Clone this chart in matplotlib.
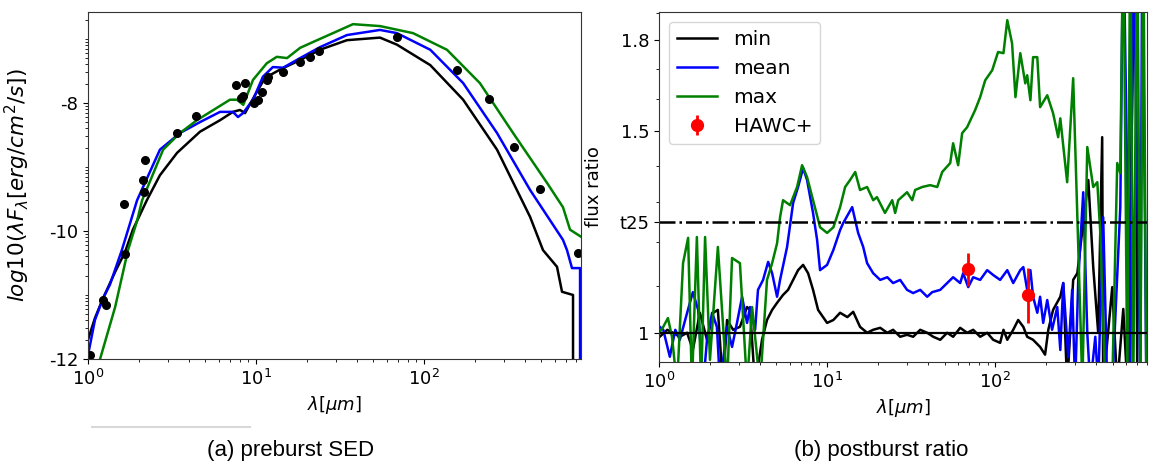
import numpy as np
import matplotlib
matplotlib.use("Agg")
import matplotlib.pyplot as plt
from matplotlib.ticker import FixedLocator, NullFormatter, FixedFormatter, LogLocator
from matplotlib.lines import Line2D

# ---------------- (a) preburst SED : log10(lambda F_lambda) ----------------
sed_wl_min = [1.0, 1.10, 1.23, 1.45, 1.66, 1.85, 2.24, 2.68, 3.39, 4.64, 6.11, 7.29, 8.03, 8.60,
              9.86, 11.3, 13.9, 18.3, 24.0, 34.8, 54.7, 69, 109, 171, 272, 428, 511, 619, 663,
              771, 771]
sed_min = [-11.70, -11.36, -11.05, -10.64, -10.33, -9.98, -9.52, -9.13, -8.78, -8.45, -8.27,
           -8.14, -8.11, -8.16, -7.88, -7.61, -7.48, -7.33, -7.17, -7.02, -6.98, -7.09, -7.41,
           -7.95, -8.73, -9.78, -10.30, -10.56, -10.95, -11.0, -14.0]

sed_wl_mean = [1.0, 1.10, 1.23, 1.35, 1.59, 1.96, 2.68, 3.53, 4.64, 6.11, 7.29, 7.81, 8.37, 9.6,
               11.0, 12.6, 14.5, 18.3, 24.0, 34.8, 54.7, 69, 109, 171, 272, 428, 672, 710, 760,
               849, 849]
sed_mean = [-11.94, -11.39, -11.05, -10.84, -10.30, -9.52, -8.73, -8.47, -8.30, -8.14, -8.14,
            -8.22, -8.16, -7.95, -7.59, -7.44, -7.45, -7.30, -7.13, -6.94, -6.86, -6.91, -7.17,
            -7.69, -8.47, -9.36, -10.14, -10.30, -10.58, -10.58, -14.0]

sed_wl_max = [1.0, 1.18, 1.45, 1.73, 1.96, 2.10, 2.80, 3.53, 4.45, 7.0, 7.7, 8.4, 9.6, 11.6,
              13.3, 15.3, 18.3, 21.8, 37.8, 54.7, 86, 137, 215, 339, 540, 672, 740, 860]
sed_max = [-12.66, -12.0, -11.19, -10.30, -9.84, -9.52, -8.73, -8.47, -8.27, -7.95, -7.95,
           -8.03, -7.64, -7.38, -7.28, -7.30, -7.14, -7.05, -6.77, -6.80, -6.91, -7.17, -7.69,
           -8.47, -9.25, -9.63, -9.98, -10.09]

obs_wl = [1.03, 1.23, 1.28, 1.66, 1.64, 2.13, 2.15, 2.18, 3.39, 4.39, 7.6, 8.6, 8.1, 8.4, 9.7,
          10.3, 10.9, 11.6, 11.8, 14.5, 18.3, 20.9, 23.7, 69, 157, 244, 343, 490, 826]
obs_f = [-11.94, -11.08, -11.16, -10.36, -9.58, -9.20, -9.39, -8.89, -8.47, -8.20, -7.72, -7.69,
         -7.92, -7.89, -8.0, -7.95, -7.83, -7.64, -7.59, -7.52, -7.36, -7.28, -7.19, -6.97,
         -7.48, -7.94, -8.69, -9.34, -10.34]

sed_yticks = [-8, -10, -12]
sed_yticklabels = ["-8", "-10", "-12"]

# ---------------- (b) postburst ratio ----------------
r_wl_min = [1.01, 1.12, 1.21, 1.33, 1.47, 1.59, 1.75, 1.93, 2.10, 2.24, 2.40, 2.54, 2.76, 3.03,
            3.34, 3.48, 3.73, 4.10, 4.39, 4.71, 5.04, 5.47, 5.86, 6.28, 6.72, 7.20, 7.71, 8.25,
            8.84, 10.0, 10.9, 11.95, 13.2, 14.3, 15.7, 17.3, 18.8, 20.7, 22.8, 24.7, 27.2, 29.9,
            32.5, 35.8, 39.4, 42.8, 47.1, 51.8, 56.2, 61.9, 68.1, 74.0, 81.4, 89.6, 97.3, 107,
            112, 118, 128, 137, 147, 155, 168, 185, 198, 207, 221, 244, 254, 268, 291, 308, 330,
            358, 383, 410, 433, 439, 497, 532, 578, 611, 681, 700, 793]
r_min = [0.993, 1.007, 1.001, 0.993, 1.001, 0.967, 1.042, 0.987, 1.042, 1.048, 0.90, 1.027,
         1.007, 1.013, 1.054, 1.048, 0.90, 0.987, 1.027, 1.048, 1.063, 1.080, 1.091, 1.113,
         1.135, 1.147, 1.128, 1.091, 1.048, 1.021, 1.027, 1.042, 1.033, 1.044, 1.013, 1.001,
         1.007, 1.011, 1.001, 1.007, 0.993, 0.997, 0.993, 1.007, 1.001, 0.993, 0.987, 1.001,
         0.993, 1.011, 1.001, 1.007, 0.993, 1.001, 0.987, 0.981, 1.007, 0.987, 1.007, 1.027,
         1.013, 0.993, 0.987, 0.973, 0.958, 1.007, 1.048, 1.076, 1.106, 0.90, 1.113, 1.128,
         1.230, 1.360, 1.142, 1.001, 1.482, 0.90, 1.097, 0.90, 1.05, 0.90, 2.3, 0.90, 0.90]

r_wl_mean = [1.01, 1.06, 1.16, 1.25, 1.33, 1.47, 1.59, 1.71, 1.83, 1.93, 2.07, 2.21, 2.31, 2.54,
             2.72, 2.91, 3.12, 3.34, 3.48, 3.73, 3.88, 4.16, 4.46, 4.71, 5.04, 5.25, 5.78, 6.28,
             6.72, 7.20, 7.60, 8.25, 8.72, 9.08, 10.0, 10.9, 11.95, 12.45, 14.1, 15.3, 16.4,
             17.3, 18.8, 20.7, 22.8, 24.7, 27.2, 29.9, 32.5, 35.8, 39.4, 42.2, 47.1, 51.8, 56.2,
             61.9, 64.5, 69.1, 74.0, 81.4, 89.6, 97.3, 107, 118, 128, 141, 147, 155, 162, 168,
             178, 185, 193, 204, 218, 234, 244, 254, 272, 287, 299, 312, 334, 353, 368, 394, 410,
             439, 464, 497, 555, 578, 636, 663, 730, 750, 793]
r_mean = [1.013, 1.007, 0.954, 1.007, 0.987, 1.042, 1.086, 1.048, 0.90, 0.987, 1.042, 1.013,
          0.90, 1.013, 0.973, 1.021, 1.076, 1.021, 1.054, 1.007, 1.091, 1.113, 1.154, 1.128,
          1.076, 1.113, 1.189, 1.299, 1.341, 1.393, 1.360, 1.273, 1.206, 1.135, 1.147, 1.182,
          1.230, 1.247, 1.288, 1.223, 1.189, 1.151, 1.128, 1.113, 1.119, 1.106, 1.113, 1.091,
          1.084, 1.091, 1.076, 1.086, 1.091, 1.106, 1.119, 1.106, 1.128, 1.097, 1.119, 1.113,
          1.135, 1.124, 1.113, 1.135, 1.106, 1.135, 1.142, 1.091, 1.135, 1.076, 1.042, 1.076,
          1.021, 1.069, 1.007, 1.054, 0.967, 1.106, 0.954, 1.091, 0.90, 1.113, 1.327, 1.001,
          0.90, 0.993, 0.90, 1.262, 0.90, 0.90, 1.288, 2.3, 0.90, 2.3, 0.90, 2.3, 0.90]

r_wl_max = [1.00, 1.06, 1.13, 1.195, 1.28, 1.39, 1.49, 1.57, 1.68, 1.78, 1.88, 2.01, 2.24, 2.54,
            2.72, 3.03, 3.34, 3.58, 3.99, 4.39, 4.71, 5.04, 5.25, 5.47, 6.02, 6.63, 7.10, 7.60,
            8.25, 9.08, 10.0, 10.9, 11.95, 12.8, 13.7, 14.7, 15.7, 17.3, 18.8, 19.8, 22.1, 24.4,
            25.4, 26.5, 29.9, 32.1, 33.4, 36.8, 41.0, 45.2, 48.4, 54.0, 56.2, 60.2, 63.6, 68.1,
            76.0, 81.4, 87.2, 96.0, 104, 112, 118, 126, 132, 141, 151, 155, 162, 168, 178, 185,
            204, 221, 237, 244, 268, 291, 312, 330, 353, 383, 405, 422, 452, 497, 532, 555, 578,
            611, 636, 663, 700, 730, 760, 793]
r_max = [1.00, 1.013, 1.031, 0.993, 0.90, 1.151, 1.211, 0.90, 1.213, 0.90, 1.213, 0.948, 1.189,
         0.90, 1.163, 1.151, 0.90, 1.054, 0.90, 1.113, 1.151, 1.198, 1.262, 1.306, 1.293, 1.341,
         1.401, 1.368, 1.306, 1.237, 1.223, 1.237, 1.288, 1.341, 1.360, 1.382, 1.333, 1.341,
         1.306, 1.314, 1.273, 1.306, 1.273, 1.306, 1.327, 1.306, 1.333, 1.341, 1.346, 1.341,
         1.382, 1.407, 1.464, 1.401, 1.494, 1.512, 1.565, 1.606, 1.661, 1.695, 1.758, 1.754,
         1.874, 1.789, 1.606, 1.754, 1.651, 1.678, 1.596, 1.740, 1.740, 1.574, 1.612, 1.555,
         1.482, 1.539, 1.354, 1.668, 1.189, 0.90, 1.453, 1.341, 1.354, 1.223, 0.90, 0.90, 1.407,
         1.379, 2.3, 0.90, 2.3, 0.90, 2.3, 0.90, 2.3, 0.90]

hawc_wl = [69, 157]
hawc_ratio = [1.137, 1.080]
hawc_err = [0.037, 0.060]

ratio_unity = 1.0
ratio_t25 = 1.25
ratio_yticks = [1.0, 1.25, 1.5, 1.8]
ratio_yticklabels = ["1", "t25", "1.5", "1.8"]
ratio_yminor = [1.1, 1.2, 1.3, 1.4, 1.6, 1.7, 1.9]

# ---------------- figure ----------------
plt.rcParams["font.size"] = 13
fig = plt.figure(figsize=(11.49, 4.69), dpi=100)
W, H = 1149, 469

def box(x0, y0, x1, y1):
    return [x0 / W, 1 - y1 / H, (x1 - x0) / W, (y1 - y0) / H]

axL = fig.add_axes(box(88, 12, 581, 359))
axR = fig.add_axes(box(659, 12, 1147, 362))

lw = 1.8
axL.plot(sed_wl_min, 10.0 ** np.array(sed_min), color="k", lw=lw)
axL.plot(sed_wl_mean, 10.0 ** np.array(sed_mean), color="b", lw=lw)
axL.plot(sed_wl_max, 10.0 ** np.array(sed_max), color="g", lw=lw)
axL.plot(obs_wl, 10.0 ** np.array(obs_f), "o", color="k", ms=5.5)
axL.set_xscale("log")
axL.set_yscale("log")
axL.set_xlim(1, 860)
axL.set_ylim(1e-12, 10 ** -6.58)
axL.yaxis.set_major_locator(FixedLocator([10.0 ** v for v in sed_yticks]))
axL.yaxis.set_major_formatter(FixedFormatter(sed_yticklabels))
axL.yaxis.set_minor_locator(LogLocator(base=10, subs=np.arange(1, 10)))
axL.yaxis.set_minor_formatter(NullFormatter())
axL.set_xlabel(r"$\lambda[\mu m]$", fontsize=13)
axL.set_ylabel(r"$log10(\lambda F_{\lambda}[erg/cm^2/s])$", fontsize=15.5, labelpad=12)

axR.plot(r_wl_min, r_min, color="k", lw=lw, label="min")
axR.plot(r_wl_mean, r_mean, color="b", lw=lw, label="mean")
axR.plot(r_wl_max, r_max, color="g", lw=lw, label="max")
axR.axhline(ratio_unity, color="k", lw=1.6)
axR.axhline(ratio_t25, color="k", lw=1.8, ls="-.")
axR.errorbar(hawc_wl, hawc_ratio, yerr=hawc_err, fmt="o", color="r", ms=8.5, elinewidth=2,
             label="HAWC+", zorder=5)
axR.set_xscale("log")
axR.set_yscale("log")
axR.set_xlim(1, 800)
axR.set_ylim(0.944, 1.905)
axR.yaxis.set_major_locator(FixedLocator(ratio_yticks))
axR.yaxis.set_major_formatter(FixedFormatter(ratio_yticklabels))
axR.yaxis.set_minor_locator(FixedLocator(ratio_yminor))
axR.yaxis.set_minor_formatter(NullFormatter())
axR.set_xlabel(r"$\lambda[\mu m]$", fontsize=13)
axR.set_ylabel("flux ratio", fontsize=13, labelpad=12)
axR.legend(loc="upper left", fontsize=14.5, handlelength=2.0)

for ax in (axL, axR):
    ax.tick_params(labelsize=13)
    for s in ax.spines.values():
        s.set_color("#333333")

# captions
fig.text(291 / W, 1 - 450 / H, "(a) preburst SED", ha="center", va="center",
         fontsize=16, family="Liberation Sans")
fig.text(881 / W, 1 - 450 / H, "(b) postburst ratio", ha="center", va="center",
         fontsize=16, family="Liberation Sans")
fig.add_artist(Line2D([92 / W, 250 / W], [1 - 427 / H, 1 - 427 / H], color="#d8d8d8", lw=1.5))

fig.savefig("out.png", dpi=100)
